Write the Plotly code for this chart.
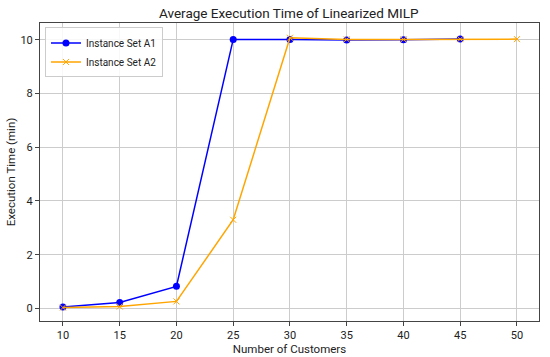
import plotly.graph_objects as go

x_a1 = [10, 15, 20, 25, 30, 35, 40, 45]
y_a1 = [0.05, 0.22, 0.82, 10.02, 10.02, 10.0, 10.01, 10.03]
x_a2 = [10, 15, 20, 25, 30, 35, 40, 45, 50]
y_a2 = [0.03, 0.07, 0.26, 3.3, 10.08, 10.02, 10.02, 10.03, 10.03]
x_ticks = [10, 15, 20, 25, 30, 35, 40, 45, 50]
y_ticks = [0, 2, 4, 6, 8, 10]

FONT = "Roboto"

fig = go.Figure()
fig.add_trace(go.Scatter(x=x_a1, y=y_a1, mode="lines+markers", name="Instance Set A1",
                         line=dict(color="#0000ff", width=1.5),
                         marker=dict(symbol="circle", size=7, color="#0000ff")))
fig.add_trace(go.Scatter(x=x_a2, y=y_a2, mode="lines+markers", name="Instance Set A2",
                         line=dict(color="#ffa500", width=1.5),
                         marker=dict(symbol="x-thin", size=6, color="#ffa500",
                                     line=dict(color="#ffa500", width=1))))

axis_common = dict(showgrid=True, gridcolor="#cccccc", gridwidth=1, zeroline=False,
                   showline=True, linecolor="#444444", linewidth=1, mirror=True,
                   ticks="outside", ticklen=4, tickcolor="#444444", automargin=False,
                   tickfont=dict(family=FONT, size=11, color="#222222"))

fig.update_xaxes(range=[7.98, 51.94], tickvals=x_ticks,
                 title=dict(text="Number of Customers", font=dict(family=FONT, size=11.5, color="#222222"), standoff=0),
                 **axis_common)
fig.update_yaxes(range=[-0.47, 10.63], tickvals=y_ticks,
                 title=dict(text="Execution Time (min)", font=dict(family=FONT, size=11.5, color="#222222"), standoff=2),
                 **axis_common)

fig.update_layout(
    width=550, height=357,
    margin=dict(l=40, r=11, t=23, b=36),
    paper_bgcolor="white", plot_bgcolor="white",
    title=dict(text="Average Execution Time of Linearized MILP", x=0.525, xanchor="center",
               y=0.962, yanchor="middle", font=dict(family=FONT, size=13.5, color="#222222")),
    legend=dict(x=0.01, y=0.985, xanchor="left", yanchor="top", bgcolor="rgba(255,255,255,0.85)",
                bordercolor="#cccccc", borderwidth=1, font=dict(family=FONT, size=10, color="#222222"),
                tracegroupgap=0, itemwidth=30),
    showlegend=True,
)

fig.write_html("out.html", config={"displayModeBar": False},
               post_script="document.body.style.margin='0';document.body.style.overflow='hidden';")
